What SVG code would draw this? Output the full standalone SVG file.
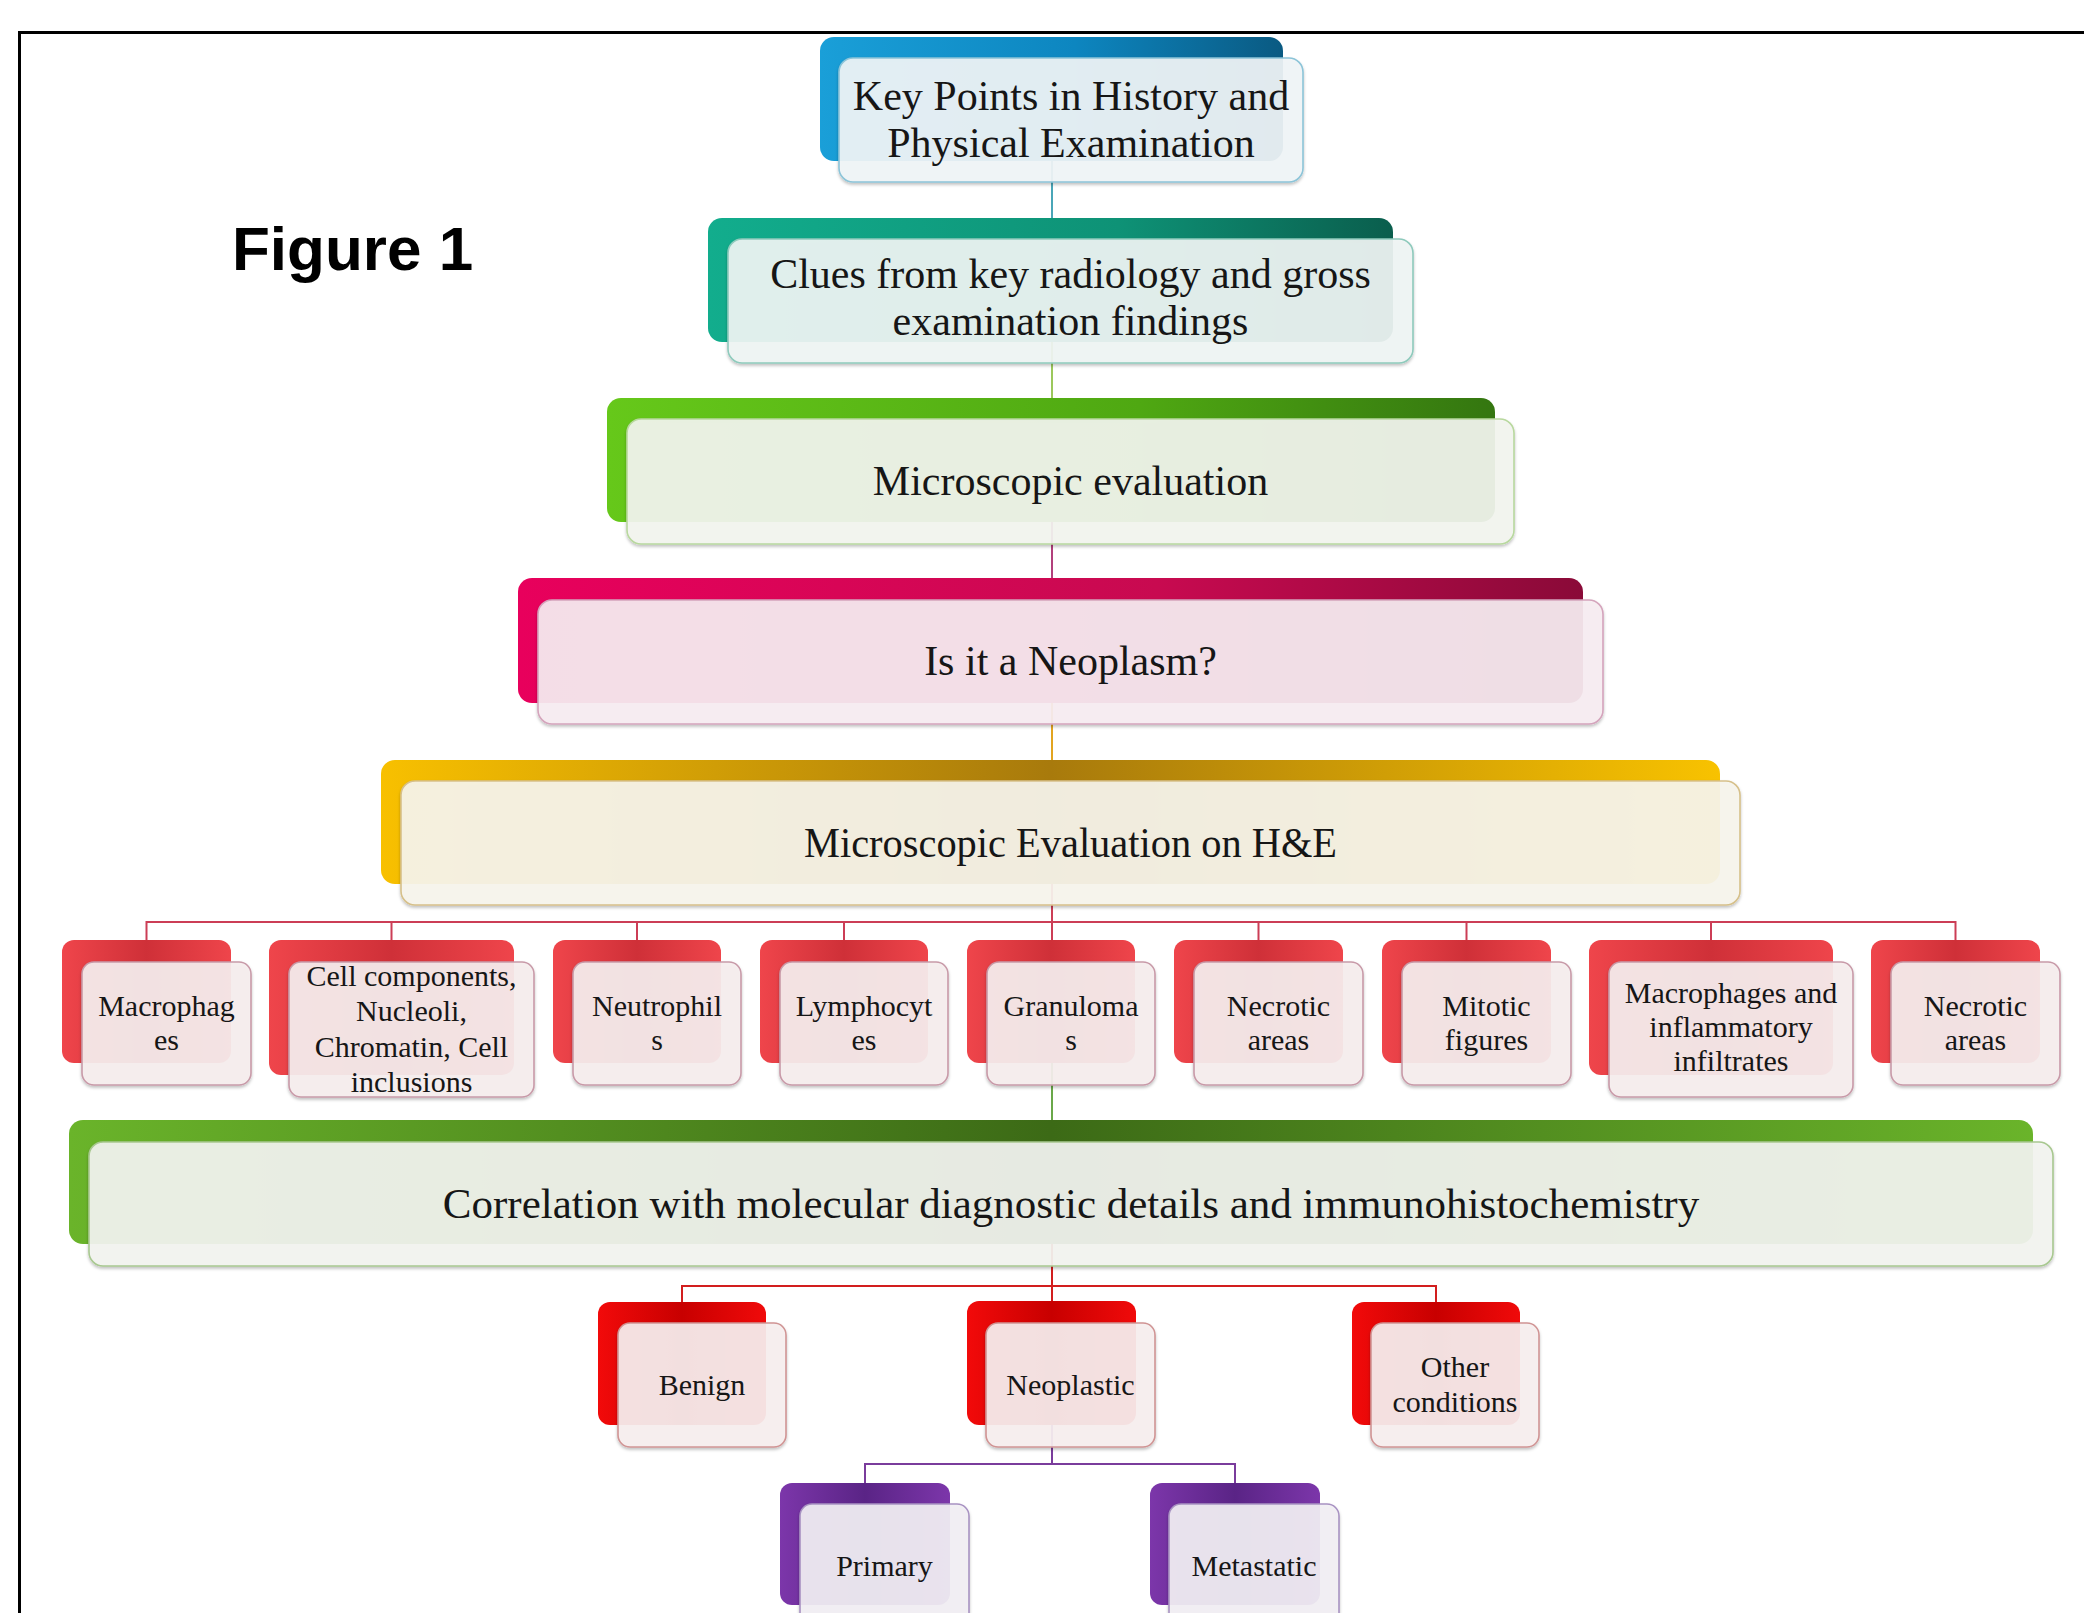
<svg xmlns="http://www.w3.org/2000/svg" width="2084" height="1613" viewBox="0 0 2084 1613">
<defs>
<style>
.t{font-family:"Liberation Serif","Times New Roman",serif;fill:#161616;text-anchor:middle}
.big{font-size:42px}
.sm{font-size:30px}
.fig{font-family:"Liberation Sans",Arial,sans-serif;font-weight:bold;font-size:62px;fill:#000}
.front{stroke-width:1.6;fill-opacity:0.92;filter:url(#sh)}
.conn{fill:none;stroke-width:2}
</style>
<filter id="sh" x="-5%" y="-10%" width="110%" height="130%">
<feDropShadow dx="0" dy="2" stdDeviation="1.5" flood-color="#000" flood-opacity="0.25"/>
</filter>
<linearGradient id="gBlue" x1="0" y1="0" x2="1" y2="0"><stop offset="0" stop-color="#1a9fd8"/><stop offset="0.55" stop-color="#0d86c0"/><stop offset="1" stop-color="#0a5a82"/></linearGradient>
<linearGradient id="gTeal" x1="0" y1="0" x2="1" y2="0"><stop offset="0" stop-color="#12ad8d"/><stop offset="0.6" stop-color="#0e9276"/><stop offset="1" stop-color="#0a5e4d"/></linearGradient>
<linearGradient id="gGreen" x1="0" y1="0" x2="1" y2="0"><stop offset="0" stop-color="#66c81a"/><stop offset="0.6" stop-color="#4fa812"/><stop offset="1" stop-color="#347610"/></linearGradient>
<linearGradient id="gMag" x1="0" y1="0" x2="1" y2="0"><stop offset="0" stop-color="#e8005c"/><stop offset="0.6" stop-color="#c80a50"/><stop offset="1" stop-color="#8a0a38"/></linearGradient>
<linearGradient id="gGold" x1="0" y1="0" x2="1" y2="0"><stop offset="0" stop-color="#f8c000"/><stop offset="0.5" stop-color="#a87a0c"/><stop offset="1" stop-color="#f8c200"/></linearGradient>
<linearGradient id="gGreen2" x1="0" y1="0" x2="1" y2="0"><stop offset="0" stop-color="#6ab42a"/><stop offset="0.5" stop-color="#3c6a16"/><stop offset="1" stop-color="#6ab42a"/></linearGradient>
<linearGradient id="gRed" x1="0" y1="0" x2="1" y2="0"><stop offset="0" stop-color="#ef454b"/><stop offset="0.5" stop-color="#cf3038"/><stop offset="1" stop-color="#ef454b"/></linearGradient>
<linearGradient id="gRed2" x1="0" y1="0" x2="1" y2="0"><stop offset="0" stop-color="#f20a0a"/><stop offset="0.5" stop-color="#c80000"/><stop offset="1" stop-color="#f00a0a"/></linearGradient>
<linearGradient id="gPur" x1="0" y1="0" x2="1" y2="0"><stop offset="0" stop-color="#7c36aa"/><stop offset="0.5" stop-color="#5a2486"/><stop offset="1" stop-color="#7c36aa"/></linearGradient>
</defs>
<rect x="0" y="0" width="2084" height="1613" fill="#ffffff"/>
<path d="M19.5 1613 V32.5 H2084" fill="none" stroke="#000" stroke-width="3"/>
<text class="fig" x="232" y="270">Figure 1</text>

<g id="connectors">
<line class="conn" stroke="#4aa6b8" x1="1052" y1="160" x2="1052" y2="218"/>
<line class="conn" stroke="#9cc85c" x1="1052" y1="342" x2="1052" y2="398"/>
<line class="conn" stroke="#b2407c" x1="1052" y1="522" x2="1052" y2="578"/>
<line class="conn" stroke="#e2a420" x1="1052" y1="703" x2="1052" y2="760"/>
<path class="conn" stroke="#cc3e56" d="M1052 884 V922 M146.5 940 V922 H1955.5 V940 M391.5 922 V940 M637 922 V940 M844 922 V940 M1052 922 V940 M1258.5 922 V940 M1466.5 922 V940 M1711 922 V940"/>
<line class="conn" stroke="#6aa84a" x1="1052" y1="1063" x2="1052" y2="1120"/>
<path class="conn" stroke="#d21e1e" d="M1052 1244 V1286 M682 1302 V1286 H1436 V1302 M1052 1286 V1301"/>
<path class="conn" stroke="#7a3c9c" d="M1052 1425 V1464 M865 1483 V1464 H1235 V1483"/>
</g>

<g id="n1">
<rect x="820" y="37" width="463" height="124" rx="14" fill="url(#gBlue)"/>
<rect class="front" x="839" y="58" width="464" height="124" rx="14" fill="#f1f5f7" stroke="#8cc4d8"/>
<text class="t big" x="1071" y="110">Key Points in History and</text>
<text class="t big" x="1071" y="157">Physical Examination</text>
</g>
<g id="n2">
<rect x="708" y="218" width="685" height="124" rx="14" fill="url(#gTeal)"/>
<rect class="front" x="728" y="239" width="685" height="124" rx="14" fill="#f0f5f4" stroke="#8ecabc"/>
<text class="t big" x="1070.5" y="288">Clues from key radiology and gross</text>
<text class="t big" x="1070.5" y="335">examination findings</text>
</g>
<g id="n3">
<rect x="607" y="398" width="888" height="124" rx="14" fill="url(#gGreen)"/>
<rect class="front" x="627" y="419" width="887" height="125" rx="14" fill="#f3f5f0" stroke="#b8d89e"/>
<text class="t big" x="1070.5" y="495">Microscopic evaluation</text>
</g>
<g id="n4">
<rect x="518" y="578" width="1065" height="125" rx="14" fill="url(#gMag)"/>
<rect class="front" x="538" y="600" width="1065" height="124" rx="14" fill="#f7eef2" stroke="#d4a4bc"/>
<text class="t big" x="1070.5" y="675">Is it a Neoplasm?</text>
</g>
<g id="n5">
<rect x="381" y="760" width="1339" height="124" rx="14" fill="url(#gGold)"/>
<rect class="front" x="401" y="781" width="1339" height="124" rx="14" fill="#f7f5ee" stroke="#d6c08a"/>
<text class="t big" x="1070.5" y="857" textLength="533" lengthAdjust="spacingAndGlyphs">Microscopic Evaluation on H&amp;E</text>
</g>

<g id="r1">
<rect x="62" y="940" width="169" height="123" rx="12" fill="url(#gRed)"/>
<rect class="front" x="82" y="962" width="169" height="123" rx="12" fill="#f6efef" stroke="#c89aa8"/>
<text class="t sm" x="166.5" y="1016">Macrophag</text>
<text class="t sm" x="166.5" y="1050">es</text>
</g>
<g id="r2">
<rect x="269" y="940" width="245" height="135" rx="12" fill="url(#gRed)"/>
<rect class="front" x="289" y="962" width="245" height="135" rx="12" fill="#f6efef" stroke="#c89aa8"/>
<text class="t sm" x="411.5" y="986">Cell components,</text>
<text class="t sm" x="411.5" y="1021">Nucleoli,</text>
<text class="t sm" x="411.5" y="1057">Chromatin, Cell</text>
<text class="t sm" x="411.5" y="1092">inclusions</text>
</g>
<g id="r3">
<rect x="553" y="940" width="168" height="123" rx="12" fill="url(#gRed)"/>
<rect class="front" x="573" y="962" width="168" height="123" rx="12" fill="#f6efef" stroke="#c89aa8"/>
<text class="t sm" x="657" y="1016">Neutrophil</text>
<text class="t sm" x="657" y="1050">s</text>
</g>
<g id="r4">
<rect x="760" y="940" width="168" height="123" rx="12" fill="url(#gRed)"/>
<rect class="front" x="780" y="962" width="168" height="123" rx="12" fill="#f6efef" stroke="#c89aa8"/>
<text class="t sm" x="864" y="1016">Lymphocyt</text>
<text class="t sm" x="864" y="1050">es</text>
</g>
<g id="r5">
<rect x="967" y="940" width="168" height="123" rx="12" fill="url(#gRed)"/>
<rect class="front" x="987" y="962" width="168" height="123" rx="12" fill="#f6efef" stroke="#c89aa8"/>
<text class="t sm" x="1071" y="1016">Granuloma</text>
<text class="t sm" x="1071" y="1050">s</text>
</g>
<g id="r6">
<rect x="1174" y="940" width="169" height="123" rx="12" fill="url(#gRed)"/>
<rect class="front" x="1194" y="962" width="169" height="123" rx="12" fill="#f6efef" stroke="#c89aa8"/>
<text class="t sm" x="1278.5" y="1016">Necrotic</text>
<text class="t sm" x="1278.5" y="1050">areas</text>
</g>
<g id="r7">
<rect x="1382" y="940" width="169" height="123" rx="12" fill="url(#gRed)"/>
<rect class="front" x="1402" y="962" width="169" height="123" rx="12" fill="#f6efef" stroke="#c89aa8"/>
<text class="t sm" x="1486.5" y="1016">Mitotic</text>
<text class="t sm" x="1486.5" y="1050">figures</text>
</g>
<g id="r8">
<rect x="1589" y="940" width="244" height="135" rx="12" fill="url(#gRed)"/>
<rect class="front" x="1609" y="962" width="244" height="135" rx="12" fill="#f6efef" stroke="#c89aa8"/>
<text class="t sm" x="1731" y="1003">Macrophages and</text>
<text class="t sm" x="1731" y="1037">inflammatory</text>
<text class="t sm" x="1731" y="1071">infiltrates</text>
</g>
<g id="r9">
<rect x="1871" y="940" width="169" height="123" rx="12" fill="url(#gRed)"/>
<rect class="front" x="1891" y="962" width="169" height="123" rx="12" fill="#f6efef" stroke="#c89aa8"/>
<text class="t sm" x="1975.5" y="1016">Necrotic</text>
<text class="t sm" x="1975.5" y="1050">areas</text>
</g>

<g id="n6">
<rect x="69" y="1120" width="1964" height="124" rx="14" fill="url(#gGreen2)"/>
<rect class="front" x="89" y="1142" width="1964" height="124" rx="14" fill="#f3f4f1" stroke="#a8c890"/>
<text class="t big" x="1071" y="1218" style="font-size:43px">Correlation with molecular diagnostic details and immunohistochemistry</text>
</g>

<g id="b1">
<rect x="598" y="1302" width="168" height="123" rx="12" fill="url(#gRed2)"/>
<rect class="front" x="618" y="1323" width="168" height="124" rx="12" fill="#f7f0f0" stroke="#d09494"/>
<text class="t sm" x="702" y="1395">Benign</text>
</g>
<g id="b2">
<rect x="967" y="1301" width="169" height="124" rx="12" fill="url(#gRed2)"/>
<rect class="front" x="986" y="1323" width="169" height="124" rx="12" fill="#f7f0f0" stroke="#d09494"/>
<text class="t sm" x="1070.5" y="1395">Neoplastic</text>
</g>
<g id="b3">
<rect x="1352" y="1302" width="168" height="123" rx="12" fill="url(#gRed2)"/>
<rect class="front" x="1371" y="1323" width="168" height="124" rx="12" fill="#f7f0f0" stroke="#d09494"/>
<text class="t sm" x="1455" y="1377">Other</text>
<text class="t sm" x="1455" y="1412">conditions</text>
</g>

<g id="p1">
<rect x="780" y="1483" width="170" height="122" rx="12" fill="url(#gPur)"/>
<rect class="front" x="800" y="1504" width="169" height="124" rx="12" fill="#f2f0f4" stroke="#a892c2"/>
<text class="t sm" x="884.5" y="1576">Primary</text>
</g>
<g id="p2">
<rect x="1150" y="1483" width="170" height="122" rx="12" fill="url(#gPur)"/>
<rect class="front" x="1169" y="1504" width="170" height="124" rx="12" fill="#f2f0f4" stroke="#a892c2"/>
<text class="t sm" x="1254" y="1576">Metastatic</text>
</g>
</svg>
